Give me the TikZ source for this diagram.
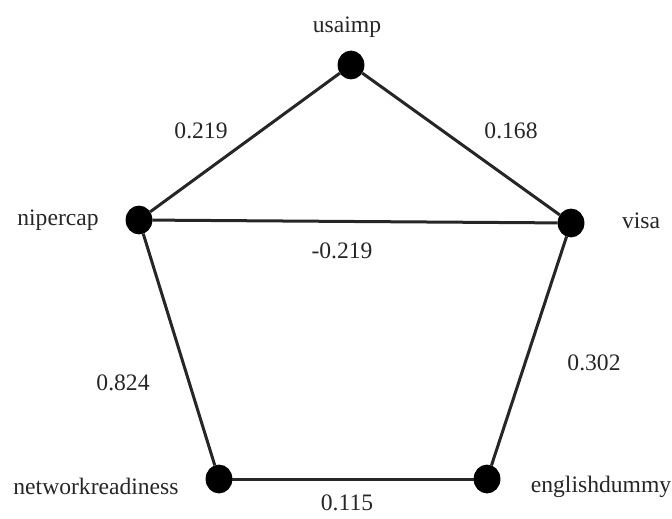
\documentclass[tikz,border=0pt]{standalone}
\usepackage{fontspec}
\setmainfont{Liberation Serif}
\usetikzlibrary{shapes.geometric}
\begin{document}
\begin{tikzpicture}[x=0.5pt, y=-0.5pt, font=\fontsize{11.8}{14}\selectfont]
			\tikzset{
				vdot/.style={ellipse, draw=black, fill=black, minimum width=13pt, minimum height=14pt, inner sep=0pt},
				vname/.style={text=black!85, inner sep=0pt},
				wlabel/.style={text=black!85, inner sep=0pt},
				link/.style={line width=1.5pt, black!85}
			}
			\useasboundingbox (0,0) rectangle (672,518);
			% vertices
			\node[vdot] (usaimp) at (351,65) {};
			\node[vdot] (nipercap) at (139,220) {};
			\node[vdot] (visa) at (571,223) {};
			\node[vdot] (netready) at (219,479) {};
			\node[vdot] (english) at (487,479) {};
			% names
			\node[vname] (lusaimp) at (347,27) {usaimp};
			\node[vname] (lnipercap) at (58,220) {nipercap};
			\node[vname] (lvisa) at (641,221) {visa};
			\node[vname] (lnetready) at (96,486) {networkreadiness};
			\node[vname] (lenglish) at (601,487) {englishdummy};
			% edges
			\draw[link] (usaimp) -- (nipercap);
			\draw[link] (usaimp) -- (visa);
			\draw[link] (nipercap) -- (visa);
			\draw[link] (nipercap) -- (netready);
			\draw[link] (visa) -- (english);
			\draw[link] (netready) -- (english);
			% weights
			\node[wlabel] (w1) at (201,131) {0.219};
			\node[wlabel] (w2) at (511,131) {0.168};
			\node[wlabel] (w3) at (342,251) {-0.219};
			\node[wlabel] (w4) at (123,383) {0.824};
			\node[wlabel] (w5) at (594,363) {0.302};
			\node[wlabel] (w6) at (347,503) {0.115};
		\end{tikzpicture}
\end{document}
